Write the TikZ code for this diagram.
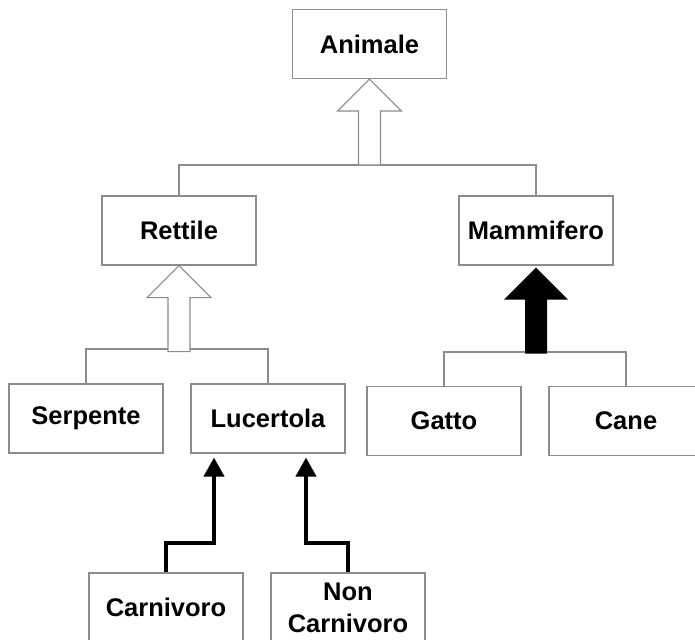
\documentclass[tikz,border=0pt]{standalone}
\usepackage{fontspec}
\setmainfont{Liberation Sans}
\usetikzlibrary{arrows.meta,positioning}
\definecolor{LineGray}{HTML}{8C8C8C}

\tikzset{
  cls/.style={draw=LineGray, line width=1.1pt, minimum width=154pt, minimum height=69pt,
    inner sep=0pt, align=center},
  tree/.style={draw=LineGray, line width=1.1pt},
  dep/.style={line width=4pt, -{Triangle[length=19pt, width=20pt]}, shorten >=4pt},
  inharrow/.pic={
    \path[pic actions] (0,0) -- (32,32) -- (11,32) -- (11,86) -- (-11,86) -- (-11,32)
      -- (-32,32) -- cycle;
  }
}

\begin{document}
\begin{tikzpicture}[x=1pt, y=-1pt, font=\fontsize{25.5}{32}\selectfont\bfseries]
\clip (0,0) rectangle (695,639);

% Classes
\node[cls] (animale) at (369.5,44) {Animale};
\node[cls] (rettile) at (179,230.5) {Rettile};
\node[cls] (mammifero) at (536,230.5) {Mammifero};
\node[cls] (serpente) at (86,418.5) {Serpente};
\node[cls] (lucertola) at (268,418.5) {Lucertola};
\node[cls] (gatto) at (444,421) {Gatto};
\node[cls] (cane) at (626,421) {Cane};
\node[cls] (carnivoro) at (166,607.5) {Carnivoro};
\node[cls] (noncarnivoro) at (348,607.5) {Non\\Carnivoro};

% Tree lines
\coordinate (topjoin) at (369.5,165);
\coordinate (rjoin) at (178,349);
\coordinate (mjoin) at (536,352);
\draw[tree] (rettile.north) |- (topjoin) -| (mammifero.north);
\draw[tree] (serpente.north) |- (rjoin) -| (lucertola.north);
\draw[tree] (gatto.north) |- (mjoin) -| (cane.north);

% Inheritance arrows
\pic[draw=LineGray, line width=1.1pt, fill=white] at (animale.south) {inharrow};
\pic[draw=LineGray, line width=1.1pt, fill=white] at (rettile.south) {inharrow};
\pic[fill=black] at ([yshift=-2pt]mammifero.south) {inharrow};

% Lucertola subclasses
\coordinate (cbend) at (214,543);
\coordinate (nbend) at (306,543);
\draw[dep] (carnivoro.north) |- (cbend) -- (cbend |- lucertola.south);
\draw[dep] (noncarnivoro.north) |- (nbend) -- (nbend |- lucertola.south);
\end{tikzpicture}
\end{document}
